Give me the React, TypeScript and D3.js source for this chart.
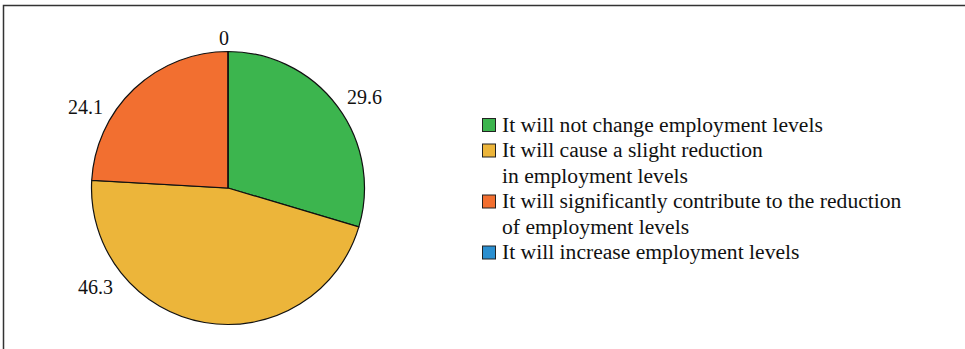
import React from "react";
import * as d3 from "d3";

const categories = [
  "It will not change employment levels",
  "It will cause a slight reduction in employment levels",
  "It will significantly contribute to the reduction of employment levels",
  "It will increase employment levels",
];
const values = [29.6, 46.3, 24.1, 0];
const valueLabels = ["29.6", "46.3", "24.1", "0"];
const colors = ["#3cb54e", "#ecb53a", "#f26f30", "#2a8fd0"];
const legendLines = [
  ["It will not change employment levels"],
  ["It will cause a slight reduction", "in employment levels"],
  ["It will significantly contribute to the reduction", "of employment levels"],
  ["It will increase employment levels"],
];
// label placement: angle (deg, clockwise from top) and radius factor
const labelAngles = [56.4, 233.3, 299.5, -1.5];
const labelRadii = [1.2, 1.21, 1.2, 1.1];

export default function App() {
  const W = 965, H = 349;
  const cx = 228, cy = 188, R = 136.5;
  const pie = d3.pie<number>().sort(null).value((d) => d);
  const arcs = pie(values);
  const arc = d3.arc<d3.PieArcDatum<number>>().innerRadius(0).outerRadius(R);
  const font = "'Liberation Serif', 'Times New Roman', serif";
  const lx = 482, ly0 = 118, lineH = 25.5;
  let row = 0;
  return (
    <svg width={W} height={H} style={{ position: "absolute", left: 0, top: 0, background: "#fff" }}>
      <rect x={0} y={0} width={W} height={H} fill="#fff" />
      <path d={`M3.5,${H} V5.5 H${W}`} fill="none" stroke="#333" strokeWidth={1.5} />
      <g transform={`translate(${cx},${cy})`}>
        {arcs.map((a, i) => (
          <path key={i} d={arc(a) || ""} fill={colors[i]} stroke="#111" strokeWidth={1.2} />
        ))}
        {valueLabels.map((t, i) => {
          const ang = (labelAngles[i] * Math.PI) / 180;
          const r = R * labelRadii[i];
          return (
            <text key={i} x={Math.sin(ang) * r} y={-Math.cos(ang) * r} dy="0.35em" textAnchor="middle"
              fontFamily={font} fontSize={20} fill="#111">{t}</text>
          );
        })}
      </g>
      <g>
        {legendLines.map((lines, i) => {
          const y = ly0 + row * lineH;
          const el = (
            <g key={i}>
              <rect x={lx + 0.5} y={y + 0.5} width={13} height={13} fill={colors[i]} stroke="#222" strokeWidth={1} />
              {lines.map((l, j) => (
                <text key={j} x={lx + 20} y={y + 13.5 + j * lineH} fontFamily={font} fontSize={21.6} fill="#111">{l}</text>
              ))}
            </g>
          );
          row += lines.length;
          return el;
        })}
      </g>
    </svg>
  );
}
